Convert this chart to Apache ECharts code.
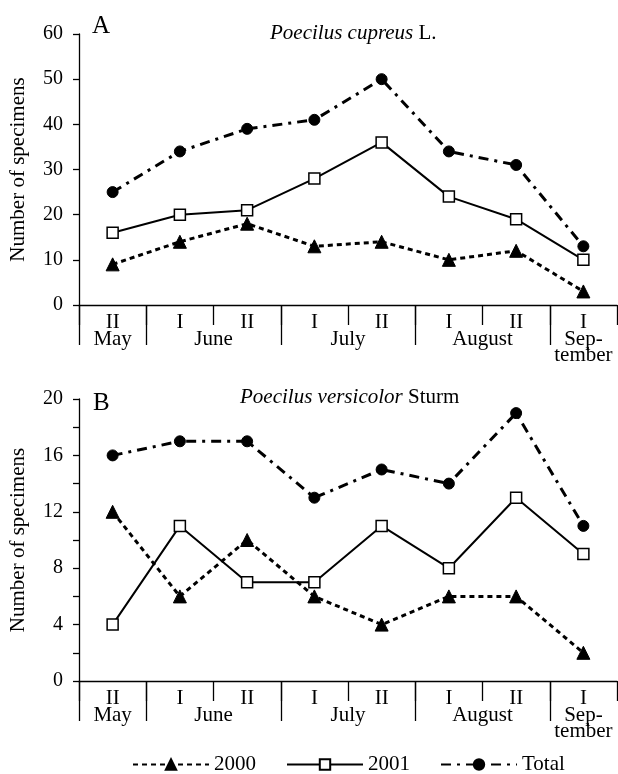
<!DOCTYPE html>
<html><head><meta charset="utf-8">
<script src="https://cdn.jsdelivr.net/npm/echarts@6/dist/echarts.min.js"></script>
<style>html,body{margin:0;padding:0;background:#fff}#c{width:618px;height:774px}</style>
</head><body><div id="c"></div>
<script>
var halves = ['II','I','II','I','II','I','II','I'];
var months = ['May','June','July','August','Sep-\ntember'];
var monthSpans = [1,2,2,2,1];
var a2000 = [9,14,18,13,14,10,12,3];
var a2001 = [16,20,21,28,36,24,19,10];
var aTotal = [25,34,39,41,50,34,31,13];
var b2000 = [12,6,10,6,4,6,6,2];
var b2001 = [4,11,7,7,11,8,13,9];
var bTotal = [16,17,17,13,15,14,19,11];
var yTicksA = [0,10,20,30,40,50,60];
var yTicksB = [0,4,8,12,16,20];

var monthCats = [], labelIdx = {}, tickIdx = {0:true};
var pos = 0;
for (var i=0;i<months.length;i++){
  var centre = pos + monthSpans[i]/2;
  labelIdx[Math.round(centre*2)] = months[i];
  pos += monthSpans[i];
  if (pos < 8) tickIdx[pos*2] = true;
}
for (var k=0;k<=16;k++) monthCats.push(labelIdx[k] || ('_'+k));

var FONT = 'Liberation Serif';
var txt = {fontFamily: FONT, fontSize: 21, color: '#000'};
var tickTxt = {fontFamily: FONT, fontSize: 20, color: '#000'};

function catAxis(grid){
  return {type:'category', gridIndex:grid, data:halves, boundaryGap:true,
    axisLine:{show:true, lineStyle:{color:'#000', width:1.3}},
    axisTick:{show:true, length:20, lineStyle:{color:'#000', width:1.3}},
    axisLabel:Object.assign({margin:7, interval:0}, txt),
    splitLine:{show:false}};
}
function monthAxis(grid){
  return {type:'category', gridIndex:grid, data:monthCats, boundaryGap:false, position:'bottom',
    axisLine:{show:false},
    axisTick:{show:true, length:40, interval:function(idx){return !!tickIdx[idx];}, lineStyle:{color:'#000', width:1.3}},
    axisLabel:Object.assign({margin:26, lineHeight:16,
      interval:function(idx){return labelIdx[idx]!==undefined;},
      formatter:function(v){return v.charAt(0)==='_'?'':v;}}, txt),
    splitLine:{show:false}};
}
function valAxis(grid, max, interval, labelTicks){
  return {type:'value', gridIndex:grid, min:0, max:max, interval:interval,
    name:'Number of specimens', nameLocation:'middle', nameGap:50, nameRotate:90,
    nameTextStyle:txt,
    axisLine:{show:true, lineStyle:{color:'#000', width:1.3}},
    axisTick:{show:true, length:6, lineStyle:{color:'#000', width:1.3}},
    axisLabel:Object.assign({margin:16, formatter:function(v){return labelTicks.indexOf(v)>=0?String(v):'';}}, tickTxt),
    splitLine:{show:false}};
}
var styles = {
  '2000': {symbol:'triangle', symbolSize:13, itemStyle:{color:'#000', borderColor:'#000', borderWidth:1},
           lineStyle:{color:'#000', width:3, type:[5,4]}},
  '2001': {symbol:'rect', symbolSize:11, itemStyle:{color:'#fff', borderColor:'#000', borderWidth:1.5},
           lineStyle:{color:'#000', width:2, type:'solid'}},
  'Total': {symbol:'circle', symbolSize:11, itemStyle:{color:'#000', borderColor:'#000', borderWidth:1},
           lineStyle:{color:'#000', width:3, type:[10,6,3,6]}}
};
function ser(name, data, xi, yi){
  var s = styles[name];
  return {name:name, type:'line', data:data, xAxisIndex:xi, yAxisIndex:yi,
    symbol:s.symbol, symbolSize:s.symbolSize, showSymbol:true, itemStyle:s.itemStyle,
    lineStyle:s.lineStyle, animation:false, z:3};
}
var italicRich = {i:{fontFamily:FONT, fontSize:21, fontStyle:'italic', color:'#000'}};

var chart = echarts.init(document.getElementById('c'), null, {renderer:'canvas'});
chart.setOption({
  backgroundColor:'#fff',
  animation:false,
  title:[
    {text:'A', left:92, top:14, padding:0, textStyle:{fontFamily:FONT, fontSize:25, fontWeight:'normal', color:'#000'}},
    {text:'{i|Poecilus cupreus} L.', left:270, top:23, padding:0,
      textStyle:{fontFamily:FONT, fontSize:21, fontWeight:'normal', color:'#000', rich:italicRich}},
    {text:'B', left:93, top:391, padding:0, textStyle:{fontFamily:FONT, fontSize:25, fontWeight:'normal', color:'#000'}},
    {text:'{i|Poecilus versicolor} Sturm', left:240, top:387, padding:0,
      textStyle:{fontFamily:FONT, fontSize:21, fontWeight:'normal', color:'#000', rich:italicRich}}
  ],
  grid:[
    {left:79, right:1, top:34, height:271, outerBoundsMode:'none', containLabel:false},
    {left:79, right:1, top:399, height:282, outerBoundsMode:'none', containLabel:false}
  ],
  xAxis:[catAxis(0), monthAxis(0), catAxis(1), monthAxis(1)],
  yAxis:[valAxis(0,60,10,yTicksA), valAxis(1,20,2,yTicksB)],
  legend:{top:754, left:132, padding:0, itemWidth:76, itemHeight:13, itemGap:30,
    textStyle:txt, data:['2000','2001','Total']},
  series:[
    ser('2000', a2000, 0, 0), ser('2001', a2001, 0, 0), ser('Total', aTotal, 0, 0),
    ser('2000', b2000, 2, 1), ser('2001', b2001, 2, 1), ser('Total', bTotal, 2, 1)
  ]
});
</script></body></html>
